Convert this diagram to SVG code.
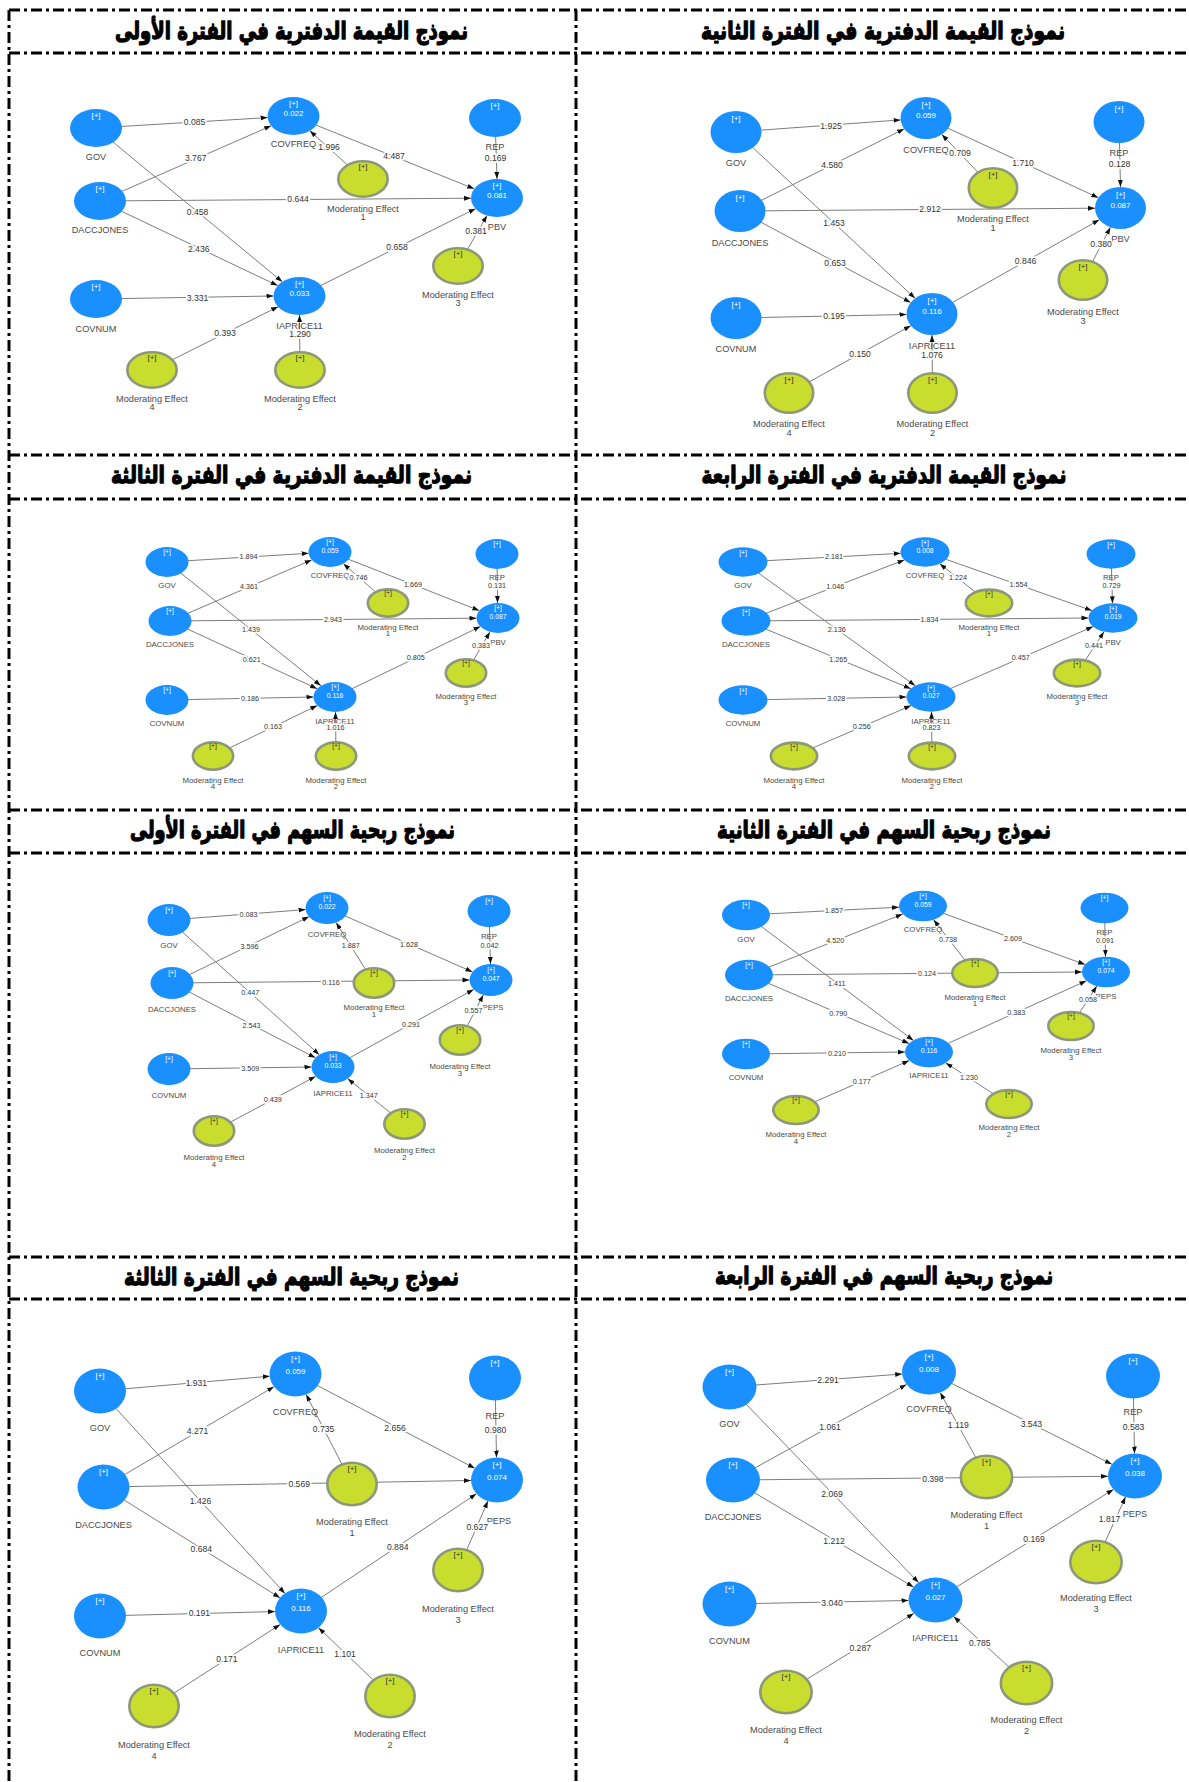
<svg xmlns="http://www.w3.org/2000/svg" width="1189" height="1782" viewBox="0 0 1189 1782">
<defs>
<marker id="ah" viewBox="0 0 10 10" refX="10" refY="5" markerWidth="7" markerHeight="7" markerUnits="userSpaceOnUse" orient="auto"><path d="M0,1.5 L10,5 L0,8.5 z" fill="#111"/></marker>
<style>
.frame{fill:none;stroke:#000;stroke-width:3;stroke-dasharray:11 4 3 4}
.hd{font-family:'DejaVu Sans',sans-serif;font-weight:bold;font-size:24px;text-anchor:middle;fill:#000;stroke:#000;stroke-width:1.3;stroke-linejoin:round}
.e line{stroke:#7d7d7d;stroke-width:1;marker-end:url(#ah)}
.b{fill:#1a90ff}
.g{fill:#c9dd2e;stroke:#8c9879;stroke-width:2.6}
.pn text{font-family:'Liberation Sans',Arial,sans-serif;text-anchor:middle;dominant-baseline:central}
.pl{fill:#fff}
.pg{fill:#333}
.nm{fill:#4a4a4a}
.ev text{fill:#333;stroke:#fff;stroke-width:3.5;stroke-linejoin:round;paint-order:stroke}
.big .nm{font-size:9.2px}.big .ev text{font-size:8.6px}.big .pl,.big .pg{font-size:8px}
.sm .nm{font-size:7.8px}.sm .ev text{font-size:7.2px}.sm .pl,.sm .pg{font-size:6.8px}
</style>
</defs>
<rect width="1189" height="1782" fill="#fff"/>

<!-- dash-dot frame of the 2 x 4 grid -->
<g id="frame" class="frame">
<path d="M9,10 H1189 M9,53 H1189 M9,455 H1189 M9,499 H1189 M9,810 H1189 M9,853 H1189 M9,1257 H1189 M9,1299 H1189"/>
<path d="M9,10 V1782 M576,10 V1782"/>
</g>

<!-- panel titles -->
<g id="titles" class="hd">
<text x="291.5" y="39" textLength="353" lengthAdjust="spacingAndGlyphs">نموذج القيمة الدفترية في الفترة الأولى</text>
<text x="883" y="39" textLength="364" lengthAdjust="spacingAndGlyphs">نموذج القيمة الدفترية في الفترة الثانية</text>
<text x="291.5" y="483" textLength="361" lengthAdjust="spacingAndGlyphs">نموذج القيمة الدفترية في الفترة الثالثة</text>
<text x="884" y="483" textLength="365" lengthAdjust="spacingAndGlyphs">نموذج القيمة الدفترية في الفترة الرابعة</text>
<text x="292.5" y="838" textLength="325" lengthAdjust="spacingAndGlyphs">نموذج ربحية السهم في الفترة الأولى</text>
<text x="884" y="838" textLength="334" lengthAdjust="spacingAndGlyphs">نموذج ربحية السهم في الفترة الثانية</text>
<text x="291.5" y="1285" textLength="335" lengthAdjust="spacingAndGlyphs">نموذج ربحية السهم في الفترة الثالثة</text>
<text x="884" y="1284" textLength="338" lengthAdjust="spacingAndGlyphs">نموذج ربحية السهم في الفترة الرابعة</text>
</g>

<!-- ===== Panel 1 : PBV, period 1 ===== -->
<g id="p1" class="pn big">
<g id="p1-edges" class="e">
<line x1="96" y1="128" x2="267.6" y2="117.6"/>
<line x1="100" y1="201" x2="271.2" y2="125.8"/>
<line x1="96" y1="128" x2="282.3" y2="281.8"/>
<line x1="100" y1="201" x2="471" y2="198.2"/>
<line x1="100" y1="201" x2="277.7" y2="285.6"/>
<line x1="96" y1="299" x2="273.5" y2="296"/>
<line x1="152" y1="370" x2="278.1" y2="306.7"/>
<line x1="300" y1="370" x2="299.5" y2="315"/>
<line x1="363" y1="179" x2="309.8" y2="130.8"/>
<line x1="293.5" y1="116" x2="474.2" y2="188.8"/>
<line x1="299.5" y1="296" x2="475.5" y2="208.7"/>
<line x1="458" y1="266" x2="487" y2="215.5"/>
<line x1="495" y1="118" x2="497" y2="179"/>
</g>
<g id="p1-gov"><ellipse class="b" cx="96" cy="128" rx="26" ry="19"/><text class="pl" x="96" y="115">[+]</text><text class="nm" x="96" y="157">GOV</text></g>
<g id="p1-dacc"><ellipse class="b" cx="100" cy="201" rx="26" ry="19"/><text class="pl" x="100" y="188">[+]</text><text class="nm" x="100" y="230">DACCJONES</text></g>
<g id="p1-covnum"><ellipse class="b" cx="96" cy="299" rx="26" ry="19"/><text class="pl" x="96" y="286">[+]</text><text class="nm" x="96" y="329">COVNUM</text></g>
<g id="p1-covfreq"><ellipse class="b" cx="293.5" cy="116" rx="26" ry="19"/><text class="pl" x="293.5" y="103">[+]</text><text class="pl" x="293.5" y="113">0.022</text><text class="nm" x="293.5" y="144">COVFREQ</text></g>
<g id="p1-rep"><ellipse class="b" cx="495" cy="118" rx="26" ry="19"/><text class="pl" x="495" y="105">[+]</text><text class="nm" x="495" y="147">REP</text></g>
<g id="p1-pbv"><ellipse class="b" cx="497" cy="198" rx="26" ry="19"/><text class="pl" x="497" y="185">[+]</text><text class="pl" x="497" y="195">0.081</text><text class="nm" x="497" y="227">PBV</text></g>
<g id="p1-iaprice"><ellipse class="b" cx="299.5" cy="296" rx="26" ry="19"/><text class="pl" x="299.5" y="283">[+]</text><text class="pl" x="299.5" y="293">0.033</text><text class="nm" x="299.5" y="326">IAPRICE11</text></g>
<g id="p1-me1"><ellipse class="g" cx="363" cy="179" rx="24.7" ry="17.7"/><text class="pg" x="363" y="166">[+]</text><text class="nm" x="363" y="209">Moderating Effect</text><text class="nm" x="363" y="217">1</text></g>
<g id="p1-me3"><ellipse class="g" cx="458" cy="266" rx="24.7" ry="17.7"/><text class="pg" x="458" y="253">[+]</text><text class="nm" x="458" y="295">Moderating Effect</text><text class="nm" x="458" y="303">3</text></g>
<g id="p1-me4"><ellipse class="g" cx="152" cy="370" rx="24.7" ry="17.7"/><text class="pg" x="152" y="357">[+]</text><text class="nm" x="152" y="399">Moderating Effect</text><text class="nm" x="152" y="407">4</text></g>
<g id="p1-me2"><ellipse class="g" cx="300" cy="370" rx="24.7" ry="17.7"/><text class="pg" x="300" y="357">[+]</text><text class="nm" x="300" y="399">Moderating Effect</text><text class="nm" x="300" y="407">2</text></g>
<g id="p1-coef" class="ev">
<text x="194.5" y="122">0.085</text><text x="195.7" y="158">3.767</text><text x="197.6" y="212">0.458</text>
<text x="298" y="199">0.644</text><text x="198.7" y="249">2.436</text><text x="197.6" y="298">3.331</text>
<text x="225" y="333">0.393</text><text x="300" y="334">1.290</text><text x="329" y="147">1.996</text>
<text x="394" y="156">4.487</text><text x="397" y="247">0.658</text><text x="476" y="231">0.381</text>
<text x="495.5" y="158">0.169</text>
</g>
</g>

<!-- ===== Panel 2 : PBV, period 2 ===== -->
<g id="p2" class="pn big">
<g id="p2-edges" class="e">
<line x1="736" y1="132" x2="900.6" y2="119.9"/>
<line x1="740" y1="211" x2="904.2" y2="128.9"/>
<line x1="736" y1="132" x2="915.1" y2="298.3"/>
<line x1="740" y1="211" x2="1095" y2="208.2"/>
<line x1="740" y1="211" x2="910.6" y2="302.5"/>
<line x1="736" y1="318" x2="906.5" y2="314.5"/>
<line x1="789" y1="393" x2="910.8" y2="325.7"/>
<line x1="932.5" y1="393" x2="932" y2="335"/>
<line x1="993" y1="188" x2="941.8" y2="134.5"/>
<line x1="926" y1="118" x2="1098.3" y2="197.7"/>
<line x1="932" y1="314" x2="1099.4" y2="219.8"/>
<line x1="1083" y1="280" x2="1110.4" y2="227.3"/>
<line x1="1119" y1="122" x2="1120.5" y2="187"/>
</g>
<g id="p2-gov"><ellipse class="b" cx="736" cy="132" rx="25.5" ry="21"/><text class="pl" x="736" y="118">[+]</text><text class="nm" x="736" y="163">GOV</text></g>
<g id="p2-dacc"><ellipse class="b" cx="740" cy="211" rx="25.5" ry="21"/><text class="pl" x="740" y="197">[+]</text><text class="nm" x="740" y="243">DACCJONES</text></g>
<g id="p2-covnum"><ellipse class="b" cx="736" cy="318" rx="25.5" ry="21"/><text class="pl" x="736" y="304">[+]</text><text class="nm" x="736" y="349">COVNUM</text></g>
<g id="p2-covfreq"><ellipse class="b" cx="926" cy="118" rx="25.5" ry="21"/><text class="pl" x="926" y="104">[+]</text><text class="pl" x="926" y="115.5">0.059</text><text class="nm" x="926" y="150">COVFREQ</text></g>
<g id="p2-rep"><ellipse class="b" cx="1119" cy="122" rx="25.5" ry="21"/><text class="pl" x="1119" y="108">[+]</text><text class="nm" x="1119" y="153">REP</text></g>
<g id="p2-pbv"><ellipse class="b" cx="1120.5" cy="208" rx="25.5" ry="21"/><text class="pl" x="1120.5" y="194">[+]</text><text class="pl" x="1120.5" y="205.5">0.087</text><text class="nm" x="1120.5" y="239">PBV</text></g>
<g id="p2-iaprice"><ellipse class="b" cx="932" cy="314" rx="25.5" ry="21"/><text class="pl" x="932" y="300">[+]</text><text class="pl" x="932" y="311.5">0.116</text><text class="nm" x="932" y="346">IAPRICE11</text></g>
<g id="p2-me1"><ellipse class="g" cx="993" cy="188" rx="24.2" ry="19.7"/><text class="pg" x="993" y="174">[+]</text><text class="nm" x="993" y="219">Moderating Effect</text><text class="nm" x="993" y="228">1</text></g>
<g id="p2-me3"><ellipse class="g" cx="1083" cy="280" rx="24.2" ry="19.7"/><text class="pg" x="1083" y="266">[+]</text><text class="nm" x="1083" y="312">Moderating Effect</text><text class="nm" x="1083" y="321">3</text></g>
<g id="p2-me4"><ellipse class="g" cx="789" cy="393" rx="24.2" ry="19.7"/><text class="pg" x="789" y="379">[+]</text><text class="nm" x="789" y="424">Moderating Effect</text><text class="nm" x="789" y="433">4</text></g>
<g id="p2-me2"><ellipse class="g" cx="932.5" cy="393" rx="24.2" ry="19.7"/><text class="pg" x="932.5" y="379">[+]</text><text class="nm" x="932.5" y="424">Moderating Effect</text><text class="nm" x="932.5" y="433">2</text></g>
<g id="p2-coef" class="ev">
<text x="831" y="126">1.925</text><text x="832" y="165">4.580</text><text x="834" y="223">1.453</text>
<text x="930" y="209">2.912</text><text x="835" y="263">0.653</text><text x="834" y="316">0.195</text>
<text x="860" y="354">0.150</text><text x="932" y="354.5">1.076</text><text x="960" y="153">0.709</text>
<text x="1023" y="163">1.710</text><text x="1025.5" y="261">0.846</text><text x="1101" y="244">0.380</text>
<text x="1119.5" y="164">0.128</text>
</g>
</g>

<!-- ===== Panel 3 : PBV, period 3 ===== -->
<g id="p3" class="pn sm">
<g id="p3-edges" class="e">
<line x1="167" y1="562" x2="308.6" y2="553.3"/>
<line x1="170" y1="621" x2="311.7" y2="559.9"/>
<line x1="167" y1="562" x2="320.9" y2="685.7"/>
<line x1="170" y1="621" x2="476.5" y2="618.2"/>
<line x1="170" y1="621" x2="317.1" y2="688.7"/>
<line x1="167" y1="700" x2="313.5" y2="697"/>
<line x1="213" y1="756" x2="317.3" y2="705.5"/>
<line x1="336" y1="756" x2="335.5" y2="712"/>
<line x1="388" y1="603" x2="343.4" y2="563.7"/>
<line x1="330" y1="552" x2="479.3" y2="610.6"/>
<line x1="335" y1="697" x2="480.4" y2="626.5"/>
<line x1="466" y1="673" x2="489.9" y2="631.9"/>
<line x1="497" y1="554" x2="497.5" y2="603"/>
</g>
<g id="p3-gov"><ellipse class="b" cx="167" cy="562" rx="21.5" ry="15"/><text class="pl" x="167" y="551.5">[+]</text><text class="nm" x="167" y="585">GOV</text></g>
<g id="p3-dacc"><ellipse class="b" cx="170" cy="621" rx="21.5" ry="15"/><text class="pl" x="170" y="610.5">[+]</text><text class="nm" x="170" y="644">DACCJONES</text></g>
<g id="p3-covnum"><ellipse class="b" cx="167" cy="700" rx="21.5" ry="15"/><text class="pl" x="167" y="689.5">[+]</text><text class="nm" x="167" y="723">COVNUM</text></g>
<g id="p3-covfreq"><ellipse class="b" cx="330" cy="552" rx="21.5" ry="15"/><text class="pl" x="330" y="541.5">[+]</text><text class="pl" x="330" y="550">0.059</text><text class="nm" x="330" y="575">COVFREQ</text></g>
<g id="p3-rep"><ellipse class="b" cx="497" cy="554" rx="21.5" ry="15"/><text class="pl" x="497" y="543.5">[+]</text><text class="nm" x="497" y="577">REP</text></g>
<g id="p3-pbv"><ellipse class="b" cx="498" cy="618" rx="21.5" ry="15"/><text class="pl" x="498" y="607.5">[+]</text><text class="pl" x="498" y="616">0.087</text><text class="nm" x="498" y="642">PBV</text></g>
<g id="p3-iaprice"><ellipse class="b" cx="335" cy="697" rx="21.5" ry="15"/><text class="pl" x="335" y="686.5">[+]</text><text class="pl" x="335" y="695">0.116</text><text class="nm" x="335" y="721">IAPRICE11</text></g>
<g id="p3-me1"><ellipse class="g" cx="388" cy="603" rx="20.2" ry="13.7"/><text class="pg" x="388" y="592.5">[+]</text><text class="nm" x="388" y="627">Moderating Effect</text><text class="nm" x="388" y="633.5">1</text></g>
<g id="p3-me3"><ellipse class="g" cx="466" cy="673" rx="20.2" ry="13.7"/><text class="pg" x="466" y="662.5">[+]</text><text class="nm" x="466" y="696">Moderating Effect</text><text class="nm" x="466" y="702.5">3</text></g>
<g id="p3-me4"><ellipse class="g" cx="213" cy="756" rx="20.2" ry="13.7"/><text class="pg" x="213" y="745.5">[+]</text><text class="nm" x="213" y="780">Moderating Effect</text><text class="nm" x="213" y="786.5">4</text></g>
<g id="p3-me2"><ellipse class="g" cx="336" cy="756" rx="20.2" ry="13.7"/><text class="pg" x="336" y="745.5">[+]</text><text class="nm" x="336" y="780">Moderating Effect</text><text class="nm" x="336" y="786.5">2</text></g>
<g id="p3-coef" class="ev">
<text x="248.4" y="556.7">1.894</text><text x="249" y="586.3">4.361</text><text x="251" y="629.3">1.439</text>
<text x="333" y="619.3">2.943</text><text x="251.7" y="659.3">0.621</text><text x="250" y="698.7">0.186</text>
<text x="273" y="726.7">0.163</text><text x="335.5" y="727.5">1.016</text><text x="358.6" y="577">0.746</text>
<text x="413" y="584.3">1.669</text><text x="415.8" y="657.7">0.805</text><text x="481" y="645">0.383</text>
<text x="497" y="585.7">0.131</text>
</g>
</g>

<!-- ===== Panel 4 : PBV, period 4 ===== -->
<g id="p4" class="pn sm">
<g id="p4-edges" class="e">
<line x1="743" y1="562" x2="900.6" y2="553.3"/>
<line x1="746" y1="621" x2="904.4" y2="559.9"/>
<line x1="743" y1="562" x2="915.3" y2="685.7"/>
<line x1="746" y1="621" x2="1088.5" y2="618"/>
<line x1="746" y1="621" x2="910.8" y2="688.7"/>
<line x1="743" y1="700" x2="906.5" y2="697"/>
<line x1="794" y1="756" x2="911.1" y2="705.6"/>
<line x1="932" y1="756" x2="931.5" y2="711.7"/>
<line x1="989" y1="603" x2="939.7" y2="563.7"/>
<line x1="925" y1="552" x2="1091.9" y2="610.6"/>
<line x1="931" y1="697" x2="1093.1" y2="626.6"/>
<line x1="1077" y1="673" x2="1104" y2="631.7"/>
<line x1="1111" y1="554" x2="1112.5" y2="603.3"/>
</g>
<g id="p4-gov"><ellipse class="b" cx="743" cy="562" rx="24.5" ry="14.7"/><text class="pl" x="743" y="552">[+]</text><text class="nm" x="743" y="585">GOV</text></g>
<g id="p4-dacc"><ellipse class="b" cx="746" cy="621" rx="24.5" ry="14.7"/><text class="pl" x="746" y="611">[+]</text><text class="nm" x="746" y="644">DACCJONES</text></g>
<g id="p4-covnum"><ellipse class="b" cx="743" cy="700" rx="24.5" ry="14.7"/><text class="pl" x="743" y="690">[+]</text><text class="nm" x="743" y="723">COVNUM</text></g>
<g id="p4-covfreq"><ellipse class="b" cx="925" cy="552" rx="24.5" ry="14.7"/><text class="pl" x="925" y="542">[+]</text><text class="pl" x="925" y="550">0.008</text><text class="nm" x="925" y="575">COVFREQ</text></g>
<g id="p4-rep"><ellipse class="b" cx="1111" cy="554" rx="24.5" ry="14.7"/><text class="pl" x="1111" y="544">[+]</text><text class="nm" x="1111" y="577">REP</text></g>
<g id="p4-pbv"><ellipse class="b" cx="1113" cy="618" rx="24.5" ry="14.7"/><text class="pl" x="1113" y="608">[+]</text><text class="pl" x="1113" y="616">0.019</text><text class="nm" x="1113" y="642">PBV</text></g>
<g id="p4-iaprice"><ellipse class="b" cx="931" cy="697" rx="24.5" ry="14.7"/><text class="pl" x="931" y="687">[+]</text><text class="pl" x="931" y="695">0.027</text><text class="nm" x="931" y="721">IAPRICE11</text></g>
<g id="p4-me1"><ellipse class="g" cx="989" cy="603" rx="23.2" ry="13.4"/><text class="pg" x="989" y="593">[+]</text><text class="nm" x="989" y="627">Moderating Effect</text><text class="nm" x="989" y="633.5">1</text></g>
<g id="p4-me3"><ellipse class="g" cx="1077" cy="673" rx="23.2" ry="13.4"/><text class="pg" x="1077" y="663">[+]</text><text class="nm" x="1077" y="696">Moderating Effect</text><text class="nm" x="1077" y="702.5">3</text></g>
<g id="p4-me4"><ellipse class="g" cx="794" cy="756" rx="23.2" ry="13.4"/><text class="pg" x="794" y="746">[+]</text><text class="nm" x="794" y="780">Moderating Effect</text><text class="nm" x="794" y="786.5">4</text></g>
<g id="p4-me2"><ellipse class="g" cx="932" cy="756" rx="23.2" ry="13.4"/><text class="pg" x="932" y="746">[+]</text><text class="nm" x="932" y="780">Moderating Effect</text><text class="nm" x="932" y="786.5">2</text></g>
<g id="p4-coef" class="ev">
<text x="834" y="556.7">2.181</text><text x="835.2" y="586.3">1.046</text><text x="836.7" y="629.3">2.136</text>
<text x="929.4" y="619.3">1.834</text><text x="838.3" y="659.3">1.265</text><text x="836.3" y="698.7">3.028</text>
<text x="861.7" y="726.7">0.256</text><text x="931.5" y="727.5">0.823</text><text x="958" y="577">1.224</text>
<text x="1018.5" y="584.3">1.554</text><text x="1020.8" y="657.7">0.457</text><text x="1094" y="645">0.441</text>
<text x="1111.5" y="585.7">0.729</text>
</g>
</g>

<!-- ===== Panel 5 : PEPS, period 1 ===== -->
<g id="p5" class="pn sm">
<g id="p5-edges" class="e">
<line x1="169" y1="920" x2="305.6" y2="909.6"/>
<line x1="172" y1="983" x2="309" y2="916.7"/>
<line x1="169" y1="920" x2="319.3" y2="1054.7"/>
<line x1="172" y1="983" x2="469.5" y2="980"/>
<line x1="172" y1="983" x2="315.4" y2="1057.8"/>
<line x1="169" y1="1069" x2="311.5" y2="1067"/>
<line x1="214" y1="1131" x2="315.6" y2="1076.4"/>
<line x1="404.5" y1="1124" x2="347.7" y2="1078.7"/>
<line x1="374" y1="983" x2="336.1" y2="922.5"/>
<line x1="327" y1="908" x2="472.5" y2="971.9"/>
<line x1="333" y1="1067" x2="473.7" y2="989.5"/>
<line x1="460" y1="1040" x2="483.3" y2="994.9"/>
<line x1="489" y1="911" x2="490.5" y2="964"/>
</g>
<g id="p5-gov"><ellipse class="b" cx="169" cy="920" rx="21.5" ry="16"/><text class="pl" x="169" y="909">[+]</text><text class="nm" x="169" y="945">GOV</text></g>
<g id="p5-dacc"><ellipse class="b" cx="172" cy="983" rx="21.5" ry="16"/><text class="pl" x="172" y="972">[+]</text><text class="nm" x="172" y="1009">DACCJONES</text></g>
<g id="p5-covnum"><ellipse class="b" cx="169" cy="1069" rx="21.5" ry="16"/><text class="pl" x="169" y="1058">[+]</text><text class="nm" x="169" y="1095">COVNUM</text></g>
<g id="p5-covfreq"><ellipse class="b" cx="327" cy="908" rx="21.5" ry="16"/><text class="pl" x="327" y="897">[+]</text><text class="pl" x="327" y="906">0.022</text><text class="nm" x="327" y="934">COVFREQ</text></g>
<g id="p5-rep"><ellipse class="b" cx="489" cy="911" rx="21.5" ry="16"/><text class="pl" x="489" y="900">[+]</text><text class="nm" x="489" y="936">REP</text></g>
<g id="p5-peps"><ellipse class="b" cx="491" cy="980" rx="21.5" ry="16"/><text class="pl" x="491" y="969">[+]</text><text class="pl" x="491" y="978">0.047</text><text class="nm" x="493" y="1007">PEPS</text></g>
<g id="p5-iaprice"><ellipse class="b" cx="333" cy="1067" rx="21.5" ry="16"/><text class="pl" x="333" y="1056">[+]</text><text class="pl" x="333" y="1065">0.033</text><text class="nm" x="333" y="1093">IAPRICE11</text></g>
<g id="p5-me1"><ellipse class="g" cx="374" cy="983" rx="20.2" ry="14.7"/><text class="pg" x="374" y="972">[+]</text><text class="nm" x="374" y="1007">Moderating Effect</text><text class="nm" x="374" y="1014.5">1</text></g>
<g id="p5-me3"><ellipse class="g" cx="460" cy="1040" rx="20.2" ry="14.7"/><text class="pg" x="460" y="1029">[+]</text><text class="nm" x="460" y="1066">Moderating Effect</text><text class="nm" x="460" y="1073">3</text></g>
<g id="p5-me4"><ellipse class="g" cx="214" cy="1131" rx="20.2" ry="14.7"/><text class="pg" x="214" y="1120">[+]</text><text class="nm" x="214" y="1157">Moderating Effect</text><text class="nm" x="214" y="1164">4</text></g>
<g id="p5-me2"><ellipse class="g" cx="404.5" cy="1124" rx="20.2" ry="14.7"/><text class="pg" x="404.5" y="1113">[+]</text><text class="nm" x="404.5" y="1150">Moderating Effect</text><text class="nm" x="404.5" y="1157">2</text></g>
<g id="p5-coef" class="ev">
<text x="248.4" y="914.3">0.083</text><text x="249.5" y="946.3">3.596</text><text x="250.2" y="992.7">0.447</text>
<text x="331" y="982.3">0.116</text><text x="251.4" y="1025.3">2.543</text><text x="250.2" y="1068.7">3.509</text>
<text x="272.8" y="1099.3">0.439</text><text x="368.8" y="1095.7">1.347</text><text x="350.7" y="945.3">1.887</text>
<text x="409" y="944.3">1.628</text><text x="411" y="1024">0.291</text><text x="473.4" y="1010.7">0.557</text>
<text x="489.5" y="945.7">0.042</text>
</g>
</g>

<!-- ===== Panel 6 : PEPS, period 2 ===== -->
<g id="p6" class="pn sm">
<g id="p6-edges" class="e">
<line x1="746" y1="915" x2="899" y2="907.2"/>
<line x1="749" y1="975" x2="902.6" y2="914.1"/>
<line x1="746" y1="915" x2="913.4" y2="1040.4"/>
<line x1="749" y1="975" x2="1082" y2="972"/>
<line x1="749" y1="975" x2="909.1" y2="1043.5"/>
<line x1="746" y1="1054" x2="905" y2="1052"/>
<line x1="796" y1="1110" x2="909.2" y2="1060.6"/>
<line x1="1009" y1="1104" x2="945.8" y2="1062.9"/>
<line x1="975" y1="973" x2="933.6" y2="919.7"/>
<line x1="923" y1="906" x2="1085.1" y2="964.5"/>
<line x1="929" y1="1052" x2="1086.4" y2="980.8"/>
<line x1="1071" y1="1026" x2="1096.8" y2="986.1"/>
<line x1="1104.5" y1="908" x2="1105.5" y2="956.7"/>
</g>
<g id="p6-gov"><ellipse class="b" cx="746" cy="915" rx="24" ry="15.3"/><text class="pl" x="746" y="904.5">[+]</text><text class="nm" x="746" y="939">GOV</text></g>
<g id="p6-dacc"><ellipse class="b" cx="749" cy="975" rx="24" ry="15.3"/><text class="pl" x="749" y="964.5">[+]</text><text class="nm" x="749" y="998">DACCJONES</text></g>
<g id="p6-covnum"><ellipse class="b" cx="746" cy="1054" rx="24" ry="15.3"/><text class="pl" x="746" y="1043.5">[+]</text><text class="nm" x="746" y="1077">COVNUM</text></g>
<g id="p6-covfreq"><ellipse class="b" cx="923" cy="906" rx="24" ry="15.3"/><text class="pl" x="923" y="895.5">[+]</text><text class="pl" x="923" y="904">0.059</text><text class="nm" x="923" y="929">COVFREQ</text></g>
<g id="p6-rep"><ellipse class="b" cx="1104.5" cy="908" rx="24" ry="15.3"/><text class="pl" x="1104.5" y="897.5">[+]</text><text class="nm" x="1104.5" y="932">REP</text></g>
<g id="p6-peps"><ellipse class="b" cx="1106" cy="972" rx="24" ry="15.3"/><text class="pl" x="1106" y="961.5">[+]</text><text class="pl" x="1106" y="970">0.074</text><text class="nm" x="1106" y="996">PEPS</text></g>
<g id="p6-iaprice"><ellipse class="b" cx="929" cy="1052" rx="24" ry="15.3"/><text class="pl" x="929" y="1041.5">[+]</text><text class="pl" x="929" y="1050">0.116</text><text class="nm" x="929" y="1075">IAPRICE11</text></g>
<g id="p6-me1"><ellipse class="g" cx="975" cy="973" rx="22.7" ry="14"/><text class="pg" x="975" y="962.5">[+]</text><text class="nm" x="975" y="997">Moderating Effect</text><text class="nm" x="975" y="1003.5">1</text></g>
<g id="p6-me3"><ellipse class="g" cx="1071" cy="1026" rx="22.7" ry="14"/><text class="pg" x="1071" y="1015.5">[+]</text><text class="nm" x="1071" y="1050">Moderating Effect</text><text class="nm" x="1071" y="1057">3</text></g>
<g id="p6-me4"><ellipse class="g" cx="796" cy="1110" rx="22.7" ry="14"/><text class="pg" x="796" y="1099.5">[+]</text><text class="nm" x="796" y="1134">Moderating Effect</text><text class="nm" x="796" y="1141">4</text></g>
<g id="p6-me2"><ellipse class="g" cx="1009" cy="1104" rx="22.7" ry="14"/><text class="pg" x="1009" y="1093.5">[+]</text><text class="nm" x="1009" y="1127">Moderating Effect</text><text class="nm" x="1009" y="1134">2</text></g>
<g id="p6-coef" class="ev">
<text x="834" y="910.7">1.857</text><text x="835.2" y="940.3">4.520</text><text x="836.7" y="983.3">1.411</text>
<text x="927" y="973.3">0.124</text><text x="838.3" y="1013.3">0.790</text><text x="837.1" y="1053.3">0.210</text>
<text x="861.7" y="1081">0.177</text><text x="968.9" y="1077.7">1.230</text><text x="948.1" y="939.3">0.738</text>
<text x="1013" y="938.7">2.609</text><text x="1016.2" y="1012">0.383</text><text x="1088" y="999.3">0.058</text>
<text x="1105" y="940">0.091</text>
</g>
</g>

<!-- ===== Panel 7 : PEPS, period 3 ===== -->
<g id="p7" class="pn big">
<g id="p7-edges" class="e">
<line x1="100" y1="1391" x2="269.7" y2="1376.2"/>
<line x1="103.5" y1="1487" x2="274" y2="1386.7"/>
<line x1="100" y1="1391" x2="284.9" y2="1593.4"/>
<line x1="103.5" y1="1487" x2="471" y2="1480.5"/>
<line x1="103.5" y1="1487" x2="280" y2="1597.8"/>
<line x1="100" y1="1616" x2="275" y2="1611.6"/>
<line x1="154" y1="1706" x2="280.2" y2="1624.5"/>
<line x1="390" y1="1696" x2="318.5" y2="1627.7"/>
<line x1="352" y1="1484" x2="306.1" y2="1394.5"/>
<line x1="295.5" y1="1374" x2="474.8" y2="1468.3"/>
<line x1="301" y1="1611" x2="476.4" y2="1493.8"/>
<line x1="458" y1="1570" x2="487.9" y2="1501.1"/>
<line x1="495" y1="1378" x2="496.5" y2="1457.5"/>
</g>
<g id="p7-gov"><ellipse class="b" cx="100" cy="1391" rx="26" ry="22.5"/><text class="pl" x="100" y="1375.5">[+]</text><text class="nm" x="100" y="1428">GOV</text></g>
<g id="p7-dacc"><ellipse class="b" cx="103.5" cy="1487" rx="26" ry="22.5"/><text class="pl" x="103.5" y="1471.5">[+]</text><text class="nm" x="103.5" y="1525">DACCJONES</text></g>
<g id="p7-covnum"><ellipse class="b" cx="100" cy="1616" rx="26" ry="22.5"/><text class="pl" x="100" y="1600.5">[+]</text><text class="nm" x="100" y="1653">COVNUM</text></g>
<g id="p7-covfreq"><ellipse class="b" cx="295.5" cy="1374" rx="26" ry="22.5"/><text class="pl" x="295.5" y="1358.5">[+]</text><text class="pl" x="295.5" y="1371">0.059</text><text class="nm" x="295.5" y="1412">COVFREQ</text></g>
<g id="p7-rep"><ellipse class="b" cx="495" cy="1378" rx="26" ry="22.5"/><text class="pl" x="495" y="1362.5">[+]</text><text class="nm" x="495" y="1416">REP</text></g>
<g id="p7-peps"><ellipse class="b" cx="497" cy="1480" rx="26" ry="22.5"/><text class="pl" x="497" y="1464.5">[+]</text><text class="pl" x="497" y="1477">0.074</text><text class="nm" x="499" y="1521">PEPS</text></g>
<g id="p7-iaprice"><ellipse class="b" cx="301" cy="1611" rx="26" ry="22.5"/><text class="pl" x="301" y="1595.5">[+]</text><text class="pl" x="301" y="1608">0.116</text><text class="nm" x="301" y="1650">IAPRICE11</text></g>
<g id="p7-me1"><ellipse class="g" cx="352" cy="1484" rx="24.7" ry="21.2"/><text class="pg" x="352" y="1468.5">[+]</text><text class="nm" x="352" y="1522">Moderating Effect</text><text class="nm" x="352" y="1533">1</text></g>
<g id="p7-me3"><ellipse class="g" cx="458" cy="1570" rx="24.7" ry="21.2"/><text class="pg" x="458" y="1554.5">[+]</text><text class="nm" x="458" y="1609">Moderating Effect</text><text class="nm" x="458" y="1620">3</text></g>
<g id="p7-me4"><ellipse class="g" cx="154" cy="1706" rx="24.7" ry="21.2"/><text class="pg" x="154" y="1690.5">[+]</text><text class="nm" x="154" y="1745">Moderating Effect</text><text class="nm" x="154" y="1756">4</text></g>
<g id="p7-me2"><ellipse class="g" cx="390" cy="1696" rx="24.7" ry="21.2"/><text class="pg" x="390" y="1680.5">[+]</text><text class="nm" x="390" y="1734">Moderating Effect</text><text class="nm" x="390" y="1745">2</text></g>
<g id="p7-coef" class="ev">
<text x="196.4" y="1382.7">1.931</text><text x="197.6" y="1431">4.271</text><text x="200.6" y="1500.7">1.426</text>
<text x="299.2" y="1484.3">0.569</text><text x="201.3" y="1549.3">0.684</text><text x="199.4" y="1613.3">0.191</text>
<text x="226.9" y="1659.3">0.171</text><text x="345" y="1654.3">1.101</text><text x="323.6" y="1429.3">0.735</text>
<text x="395.1" y="1428.3">2.656</text><text x="397.7" y="1547.3">0.884</text><text x="477.2" y="1526.7">0.627</text>
<text x="495.5" y="1430">0.980</text>
</g>
</g>

<!-- ===== Panel 8 : PEPS, period 4 ===== -->
<g id="p8" class="pn big">
<g id="p8-edges" class="e">
<line x1="729.5" y1="1387" x2="902.2" y2="1374"/>
<line x1="733" y1="1480" x2="906.5" y2="1384.4"/>
<line x1="729.5" y1="1387" x2="918.6" y2="1582.5"/>
<line x1="733" y1="1480" x2="1108" y2="1476.3"/>
<line x1="733" y1="1480" x2="913.5" y2="1587"/>
<line x1="729.5" y1="1604" x2="908.5" y2="1600.5"/>
<line x1="786" y1="1692" x2="913.8" y2="1613.4"/>
<line x1="1026.5" y1="1683" x2="953.7" y2="1616.6"/>
<line x1="986.5" y1="1477" x2="940.2" y2="1392.5"/>
<line x1="929" y1="1372" x2="1111.9" y2="1464.3"/>
<line x1="935.5" y1="1600" x2="1113.4" y2="1489.5"/>
<line x1="1096" y1="1562" x2="1125.5" y2="1497"/>
<line x1="1133" y1="1376" x2="1134.5" y2="1453.5"/>
</g>
<g id="p8-gov"><ellipse class="b" cx="729.5" cy="1387" rx="27" ry="22.5"/><text class="pl" x="729.5" y="1371.5">[+]</text><text class="nm" x="729.5" y="1424">GOV</text></g>
<g id="p8-dacc"><ellipse class="b" cx="733" cy="1480" rx="27" ry="22.5"/><text class="pl" x="733" y="1464.5">[+]</text><text class="nm" x="733" y="1517">DACCJONES</text></g>
<g id="p8-covnum"><ellipse class="b" cx="729.5" cy="1604" rx="27" ry="22.5"/><text class="pl" x="729.5" y="1588.5">[+]</text><text class="nm" x="729.5" y="1641">COVNUM</text></g>
<g id="p8-covfreq"><ellipse class="b" cx="929" cy="1372" rx="27" ry="22.5"/><text class="pl" x="929" y="1356.5">[+]</text><text class="pl" x="929" y="1369.5">0.008</text><text class="nm" x="929" y="1409">COVFREQ</text></g>
<g id="p8-rep"><ellipse class="b" cx="1133" cy="1376" rx="27" ry="22.5"/><text class="pl" x="1133" y="1360.5">[+]</text><text class="nm" x="1133" y="1412">REP</text></g>
<g id="p8-peps"><ellipse class="b" cx="1135" cy="1476" rx="27" ry="22.5"/><text class="pl" x="1135" y="1460.5">[+]</text><text class="pl" x="1135" y="1473.5">0.038</text><text class="nm" x="1135" y="1514">PEPS</text></g>
<g id="p8-iaprice"><ellipse class="b" cx="935.5" cy="1600" rx="27" ry="22.5"/><text class="pl" x="935.5" y="1584.5">[+]</text><text class="pl" x="935.5" y="1597.5">0.027</text><text class="nm" x="935.5" y="1638">IAPRICE11</text></g>
<g id="p8-me1"><ellipse class="g" cx="986.5" cy="1477" rx="25.7" ry="21.2"/><text class="pg" x="986.5" y="1461.5">[+]</text><text class="nm" x="986.5" y="1515">Moderating Effect</text><text class="nm" x="986.5" y="1526">1</text></g>
<g id="p8-me3"><ellipse class="g" cx="1096" cy="1562" rx="25.7" ry="21.2"/><text class="pg" x="1096" y="1546.5">[+]</text><text class="nm" x="1096" y="1598">Moderating Effect</text><text class="nm" x="1096" y="1609">3</text></g>
<g id="p8-me4"><ellipse class="g" cx="786" cy="1692" rx="25.7" ry="21.2"/><text class="pg" x="786" y="1676.5">[+]</text><text class="nm" x="786" y="1730">Moderating Effect</text><text class="nm" x="786" y="1741">4</text></g>
<g id="p8-me2"><ellipse class="g" cx="1026.5" cy="1683" rx="25.7" ry="21.2"/><text class="pg" x="1026.5" y="1667.5">[+]</text><text class="nm" x="1026.5" y="1720">Moderating Effect</text><text class="nm" x="1026.5" y="1731">2</text></g>
<g id="p8-coef" class="ev">
<text x="828.1" y="1380">2.291</text><text x="830.1" y="1427.3">1.061</text><text x="832" y="1494.3">2.069</text>
<text x="932.9" y="1478.7">0.398</text><text x="834" y="1541">1.212</text><text x="832" y="1603.3">3.040</text>
<text x="860.2" y="1647.7">0.287</text><text x="979.8" y="1642.7">0.785</text><text x="958.3" y="1425">1.119</text>
<text x="1031.4" y="1424">3.543</text><text x="1034.1" y="1539.3">0.169</text><text x="1109.6" y="1519.3">1.817</text>
<text x="1133.5" y="1426.7">0.583</text>
</g>
</g>
</svg>
